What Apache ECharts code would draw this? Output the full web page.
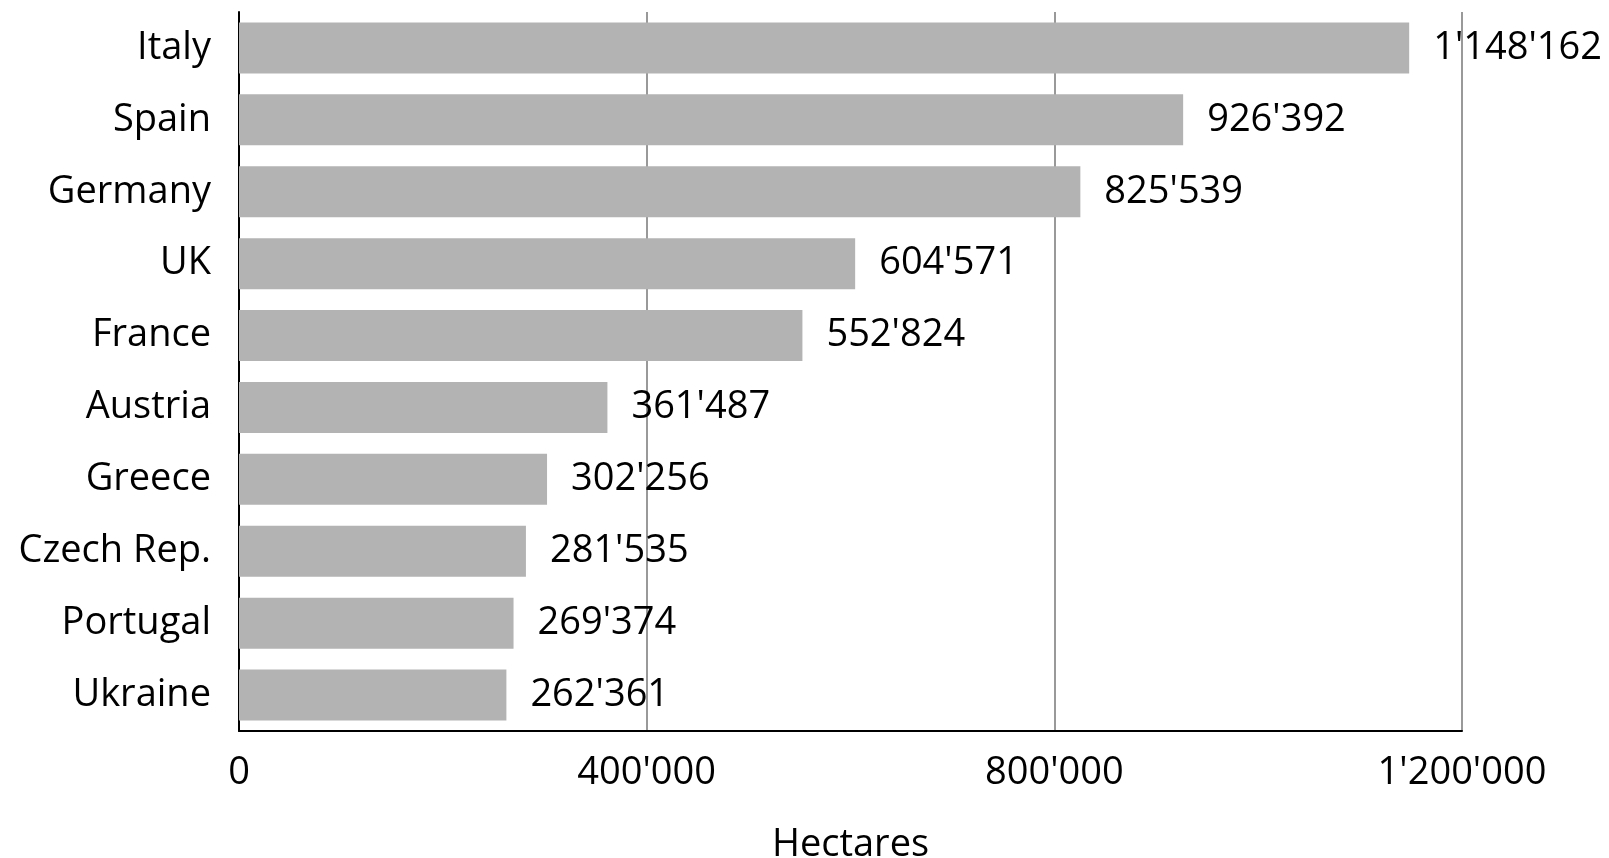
<!DOCTYPE html>
<html>
<head>
<meta charset="utf-8">
<script src="https://cdn.jsdelivr.net/npm/echarts@6/dist/echarts.min.js"></script>
<style>html,body{margin:0;padding:0;background:#fff}#c{width:1609px;height:858px}</style>
</head>
<body>
<div id="c"></div>
<script>
var categories = ["Italy","Spain","Germany","UK","France","Austria","Greece","Czech Rep.","Portugal","Ukraine"];
var values = [1148162, 926392, 825539, 604571, 552824, 361487, 302256, 281535, 269374, 262361];
var xTicks = [0, 400000, 800000, 1200000];
var axisTitle = "Hectares";

function fmt(v){ return String(v).replace(/\B(?=(\d{3})+(?!\d))/g, "'"); }

var font = "'Open Sans', 'Noto Sans', sans-serif";
var chart = echarts.init(document.getElementById('c'));
chart.setOption({
  animation: false,
  grid: {left: 239, right: 147, top: 12, bottom: 127, containLabel: false, outerBoundsMode: 'none'},
  xAxis: {
    type: 'value', min: xTicks[0], max: xTicks[xTicks.length - 1], interval: xTicks[1] - xTicks[0],
    name: axisTitle, nameLocation: 'middle', nameGap: 95,
    nameTextStyle: {fontFamily: font, fontSize: 38, color: '#000'},
    axisLine: {show: true, lineStyle: {color: '#000', width: 2}},
    axisTick: {show: false},
    axisLabel: {fontFamily: font, fontSize: 38, color: '#000', margin: 23, formatter: fmt},
    splitLine: {show: true, lineStyle: {color: '#777', width: 1.5}}
  },
  yAxis: {
    type: 'category', inverse: true, data: categories,
    axisLine: {show: true, lineStyle: {color: '#000', width: 2}},
    axisTick: {show: false},
    axisLabel: {fontFamily: font, fontSize: 38, color: '#000', margin: 28}
  },
  series: [{
    type: 'bar', data: values, barWidth: 51,
    itemStyle: {color: '#b3b3b3'},
    label: {show: true, position: 'right', distance: 24, fontFamily: font, fontSize: 38, color: '#000',
      formatter: function(p){ return fmt(p.value); }}
  }]
});
</script>
</body>
</html>
